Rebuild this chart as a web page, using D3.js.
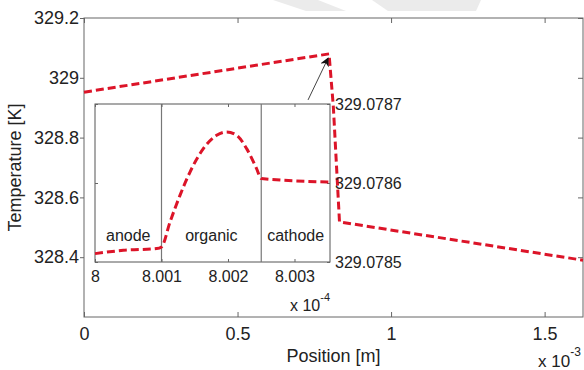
<!DOCTYPE html>
<html>
<head>
<meta charset="utf-8">
<script src="https://cdn.jsdelivr.net/npm/d3@7"></script>
<style>
  body { margin: 0; background: #fff; }
  svg { display: block; font-family: "Liberation Sans", Arial, sans-serif; }
</style>
</head>
<body>
<svg id="chart" width="584" height="370"></svg>
<script>
// main profile, position in units of 1e-3 m
const mainPos  = [0, 0.798, 0.812, 0.832, 1.625];
const mainTemp = [328.952, 329.080, 328.903, 328.518, 328.390];
const mainXTicks = [0, 0.5, 1, 1.5];
const mainYTicks = [328.4, 328.6, 328.8, 329, 329.2];

// inset (zoom near the peak), position in units of 1e-4 m
const insetPos  = [8.0000, 8.000426, 8.000928, 8.001, 8.001128, 8.001278, 8.001429, 8.001629,
                   8.00183, 8.00198, 8.00213, 8.00228, 8.00243, 8.0025, 8.00353];
const insetTemp = [329.0785106, 329.0785148, 329.078517, 329.078519, 329.0785506, 329.0785844,
                   329.0786139, 329.0786435, 329.0786604, 329.0786646, 329.0786604, 329.0786435,
                   329.0786182, 329.0786056, 329.0786013];
const insetXTicks = [8, 8.001, 8.002, 8.003];
const insetYTicks = [329.0785, 329.0786, 329.0787];
const layerBounds = [8.001, 8.0025];
const layerNames = ["anode", "organic", "cathode"];

// arrow pointing at the peak (main data units)
const arrowFrom = [0.7296, 328.926];
const arrowTo   = [0.795, 329.066];

const svg = d3.select("#chart");
const red = "#dc1428";
const axisCol = "#666";
const textCol = "#222";

// faint watermark at top
svg.append("polygon").attr("points", "273,0 318,0 346,11 306,11").attr("fill", "#ebebeb");
svg.append("polygon").attr("points", "372,0 481,0 476,11 388,11").attr("fill", "#ebebeb");

const x = d3.scaleLinear().domain([0, 1.625]).range([84, 583]);
const y = d3.scaleLinear().domain([328.2, 329.2]).range([317, 18]);

const defs = svg.append("defs");
defs.append("marker")
  .attr("id", "head")
  .attr("viewBox", "0 0 10 10")
  .attr("refX", 9).attr("refY", 5)
  .attr("markerWidth", 9).attr("markerHeight", 9)
  .attr("markerUnits", "userSpaceOnUse")
  .attr("orient", "auto")
  .append("path").attr("d", "M0,0 L10,5 L0,10 L3,5 Z").attr("fill", "#111");

function styleAxis(g, fs) {
  g.select(".domain").remove();
  g.selectAll(".tick line").attr("stroke", axisCol);
  g.selectAll(".tick text").attr("fill", textCol).style("font-size", fs + "px").attr("font-family", null);
}

// main frame
svg.append("rect")
  .attr("x", x.range()[0]).attr("y", y.range()[1])
  .attr("width", x.range()[1] - x.range()[0]).attr("height", y.range()[0] - y.range()[1])
  .attr("fill", "none").attr("stroke", axisCol);

svg.append("g").attr("transform", `translate(0,${y.range()[0]})`)
  .call(d3.axisBottom(x).tickValues(mainXTicks).tickSize(-5).tickPadding(10).tickFormat(d => d))
  .call(g => styleAxis(g, 18));
svg.append("g").attr("transform", `translate(0,${y.range()[1]})`)
  .call(d3.axisTop(x).tickValues(mainXTicks).tickSize(-5).tickFormat(""))
  .call(g => styleAxis(g, 18));
svg.append("g").attr("transform", `translate(${x.range()[0]},0)`)
  .call(d3.axisLeft(y).tickValues(mainYTicks).tickSize(4).tickPadding(1).tickFormat(d => d))
  .call(g => styleAxis(g, 18));
svg.append("g").attr("transform", `translate(${x.range()[1]},0)`)
  .call(d3.axisRight(y).tickValues(mainYTicks).tickSize(-5).tickFormat(""))
  .call(g => styleAxis(g, 18));

// main curve
const mainData = mainPos.map((p, i) => [p, mainTemp[i]]);
svg.append("path")
  .datum(mainData)
  .attr("fill", "none")
  .attr("stroke", red)
  .attr("stroke-width", 3)
  .attr("stroke-dasharray", "8,4")
  .attr("d", d3.line().x(d => x(d[0])).y(d => y(d[1])));

// axis titles
svg.append("text")
  .attr("x", (x.range()[0] + x.range()[1]) / 2).attr("y", 362)
  .attr("text-anchor", "middle").attr("fill", textCol).style("font-size", "18px")
  .text("Position [m]");
svg.append("text")
  .attr("transform", `translate(21,${(y.range()[0] + y.range()[1]) / 2}) rotate(-90)`)
  .attr("text-anchor", "middle").attr("fill", textCol).style("font-size", "18px")
  .text("Temperature [K]");
const e3 = svg.append("text").attr("x", 538).attr("y", 367).attr("fill", textCol).style("font-size", "17px");
e3.append("tspan").text("x 10");
e3.append("tspan").attr("dy", -11).style("font-size", "12px").text("-3");

// inset
const ix = d3.scaleLinear().domain([8, 8.003534]).range([95, 330]);
const iy = d3.scaleLinear().domain([329.0785, 329.0787]).range([262, 104]);

svg.append("rect")
  .attr("x", ix.range()[0]).attr("y", iy.range()[1])
  .attr("width", ix.range()[1] - ix.range()[0]).attr("height", iy.range()[0] - iy.range()[1])
  .attr("fill", "#fff").attr("stroke", "#555");

svg.selectAll(".divider")
  .data(layerBounds)
  .enter().append("line")
  .attr("class", "divider")
  .attr("x1", d => ix(d)).attr("x2", d => ix(d))
  .attr("y1", iy.range()[0]).attr("y2", iy.range()[1])
  .attr("stroke", "#777").attr("stroke-width", 1.2);

const edges = [ix.domain()[0], ...layerBounds, ix.domain()[1]];
svg.selectAll(".layer")
  .data(layerNames)
  .enter().append("text")
  .attr("class", "layer")
  .attr("x", (d, i) => ix((edges[i] + edges[i + 1]) / 2))
  .attr("y", 241)
  .attr("text-anchor", "middle").attr("fill", textCol).style("font-size", "16px")
  .text(d => d);

svg.append("g").attr("transform", `translate(0,${iy.range()[0]})`)
  .call(d3.axisBottom(ix).tickValues(insetXTicks).tickSize(-3).tickPadding(9).tickFormat(d => d))
  .call(g => styleAxis(g, 16));
svg.append("g").attr("transform", `translate(0,${iy.range()[1]})`)
  .call(d3.axisTop(ix).tickValues(insetXTicks).tickSize(-3).tickFormat(""))
  .call(g => styleAxis(g, 16));
svg.append("g").attr("transform", `translate(${ix.range()[0]},0)`)
  .call(d3.axisLeft(iy).tickValues(insetYTicks).tickSize(-3).tickFormat(""))
  .call(g => styleAxis(g, 16));
svg.append("g").attr("transform", `translate(${ix.range()[1]},0)`)
  .call(d3.axisRight(iy).tickValues(insetYTicks).tickSize(-3).tickPadding(5).tickFormat(d3.format(".4f")))
  .call(g => styleAxis(g, 16));

const e4 = svg.append("text").attr("x", 290).attr("y", 311).attr("fill", textCol).style("font-size", "16px");
e4.append("tspan").text("x 10");
e4.append("tspan").attr("dy", -10).style("font-size", "11px").text("-4");

const insetData = insetPos.map((p, i) => [p, insetTemp[i]]);
svg.append("path")
  .datum(insetData)
  .attr("fill", "none")
  .attr("stroke", red)
  .attr("stroke-width", 3)
  .attr("stroke-dasharray", "8,4")
  .attr("d", d3.line().curve(d3.curveMonotoneX).x(d => ix(d[0])).y(d => iy(d[1])));

// arrow
svg.append("line")
  .attr("x1", x(arrowFrom[0])).attr("y1", y(arrowFrom[1]))
  .attr("x2", x(arrowTo[0])).attr("y2", y(arrowTo[1]))
  .attr("stroke", "#444").attr("stroke-width", 1)
  .attr("marker-end", "url(#head)");
</script>
</body>
</html>
